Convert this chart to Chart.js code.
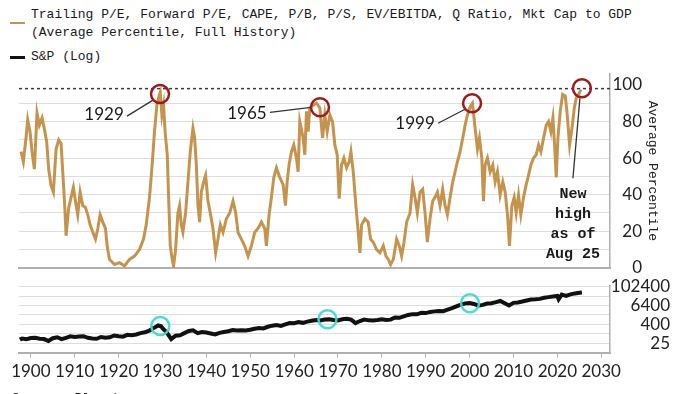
<!DOCTYPE html>
<html><head><meta charset="utf-8">
<script src="https://cdn.jsdelivr.net/npm/chart.js@4.4.1/dist/chart.umd.min.js"></script>
<style>
html,body{margin:0;padding:0;background:#fff;width:700px;height:394px;overflow:hidden;position:relative;}
#c1{position:absolute;left:0;top:0;}
#c2{position:absolute;left:0;top:271px;}
.leg{position:absolute;font:13px 'Liberation Mono',monospace;color:#1a1a1a;white-space:pre;line-height:18px;}
.sw{position:absolute;}
</style></head><body>
<div class="leg" style="left:31px;top:6px;">Trailing P/E, Forward P/E, CAPE, P/B, P/S, EV/EBITDA, Q Ratio, Mkt Cap to GDP<br>(Average Percentile, Full History)</div>
<div class="sw" style="left:10px;top:22px;width:15px;height:2px;background:#c4944f"></div>
<div class="leg" style="left:31px;top:48px;">S&amp;P (Log)</div>
<div class="sw" style="left:10px;top:56px;width:15px;height:3px;background:#111"></div>
<canvas id="c1" width="700" height="283"></canvas>
<canvas id="c2" width="700" height="123"></canvas>
<div class="leg" style="left:12px;top:390px;">Source: Bloomberg</div>
<script>
// ---------- DATA ----------
const xTicks = [1900,1910,1920,1930,1940,1950,1960,1970,1980,1990,2000,2010,2020,2030];
const pctGridTicks = [0,10,20,30,40,50,60,70,80,90,100];
const pctLabelTicks = [0,20,40,60,80,100];
const spGridTicks = [6.25,25,100,400,1600,6400,25600,102400];
const spLabelTicks = [25,400,6400,102400];
const highLine = 98;

const pctYears = [1897.76,1898.29,1898.90,1899.28,1899.81,1900.27,1900.80,1901.41,1901.94,1902.55,1903.08,1903.61,1904.07,1904.60,1905.14,1905.75,1906.35,1906.89,1907.27,1907.72,1908.03,1908.64,1909.17,1909.70,1910.16,1910.69,1911.23,1911.83,1912.44,1912.98,1913.51,1914.12,1914.73,1915.26,1915.79,1916.40,1917.01,1917.39,1917.92,1919.06,1920.21,1921.35,1922.49,1923.63,1924.77,1925.68,1926.29,1927.05,1927.66,1928.20,1928.73,1929.34,1929.49,1929.87,1930.25,1930.63,1931.09,1931.47,1931.77,1932.23,1932.53,1932.99,1933.52,1933.90,1934.28,1934.66,1935.27,1935.81,1936.34,1936.95,1937.33,1937.71,1938.09,1938.47,1938.85,1939.38,1939.84,1940.37,1940.90,1941.51,1942.12,1942.66,1943.19,1943.80,1944.56,1945.32,1946.08,1946.69,1947.22,1947.98,1948.74,1949.50,1950.27,1951.03,1951.79,1952.55,1953.31,1953.69,1954.30,1954.83,1955.37,1955.97,1956.74,1957.50,1958.03,1958.41,1958.87,1959.40,1959.93,1960.54,1960.92,1961.30,1962.06,1962.44,1962.82,1963.20,1963.58,1964.34,1965.11,1965.87,1966.48,1967.01,1967.54,1968.15,1968.76,1969.29,1969.82,1970.28,1970.81,1971.35,1971.96,1972.56,1972.95,1973.48,1974.09,1974.62,1975.00,1975.38,1976.14,1976.90,1977.43,1978.04,1978.81,1979.57,1980.33,1980.94,1981.47,1982.00,1982.61,1983.37,1983.98,1984.51,1985.05,1985.65,1986.42,1987.02,1987.56,1988.09,1988.70,1989.31,1989.84,1990.37,1990.98,1991.59,1992.12,1992.66,1993.26,1993.87,1994.41,1994.94,1995.55,1996.16,1996.69,1997.22,1997.83,1998.44,1998.97,1999.51,2000.11,2000.65,2001.26,2001.79,2002.25,2002.78,2003.16,2003.54,2004.07,2004.68,2005.29,2005.82,2006.35,2006.96,2007.57,2008.11,2008.64,2009.09,2009.63,2010.16,2010.62,2011.15,2011.68,2012.29,2012.90,2013.43,2013.97,2014.57,2015.18,2015.72,2016.25,2016.86,2017.47,2018.00,2018.53,2018.99,2019.37,2019.75,2020.13,2020.66,2021.20,2021.80,2022.18,2022.79,2023.33,2023.86,2024.32,2024.84,2025.38];
const pctValues = [63.5,58,71,81,74.5,63.5,54,84.7,78,82,76,69,54,45,41.4,65,70,68,52.5,34,17.5,33,38.5,44,36.5,29,41.4,34,33,29,23.5,19.4,15.7,21.5,29,25,21.5,12,4.6,1.8,2.8,1,4.6,6.4,10,15.7,23.5,38.5,56.7,75,89,95,96,83.6,89,73.7,61.8,34,12,4.6,1,10,30,34,23.5,19.4,30,47,63.5,76.4,71,56.7,34,25,41.4,47,50.6,36.5,30,21.5,8.2,15.7,23.5,19.4,26.8,30,36.5,30,19.4,15.7,12,6.4,12,19.4,21.5,25,21.5,12,29,38.5,49.4,54.7,49.4,45.5,34,47,56.7,63.5,67.2,60,52.5,80,71,61.8,85.6,74.5,87.4,89,90,87.4,71,83.6,74.5,83.6,80,67.2,61.8,37.8,56.3,60,54.7,58,63.5,52.5,34,19.4,8.2,23.5,26.8,25,15.7,14,10,8.2,12,6.4,4.6,1.8,4.6,15.7,12,6.4,14,25,30,45.5,38.5,30,41.4,43,30,14,26.8,36.5,38.5,41.4,34,43,34,29,38.5,47,52.5,58,63.5,71,78,83.6,88,90,76.4,65,71,60,36.5,56.3,60,52.5,56.3,47,52.5,39.8,47,41.4,29,12,34,38.5,30,39.8,29,38.5,45.5,50.6,56.3,60,61.8,67.2,63.5,71,78,80,74.5,82,67.2,49.4,71,85.6,94.8,94,85.6,67.2,76.4,87.4,93,94.8,97.5];

const spYears = [1897.5,1898,1899,1900,1901,1902,1903,1904,1905,1906,1907,1908,1909,1910,1911,1912,1913,1914,1915,1916,1917,1918,1919,1920,1921,1922,1923,1924,1925,1926,1927,1928,1929,1929.7,1930,1931,1932,1933,1934,1935,1936,1937,1938,1939,1940,1941,1942,1943,1944,1945,1946,1947,1948,1949,1950,1951,1952,1953,1954,1955,1956,1957,1958,1959,1960,1961,1962,1963,1964,1965,1966,1967,1968,1969,1970,1971,1972,1973,1974,1975,1976,1977,1978,1979,1980,1981,1982,1983,1984,1985,1986,1987,1988,1989,1990,1991,1992,1993,1994,1995,1996,1997,1998,1999,2000,2001,2002,2003,2004,2005,2006,2007,2008,2009,2010,2011,2012,2013,2014,2015,2016,2017,2018,2019,2020,2020.3,2021,2022,2023,2024,2025,2025.6];
const spValues = [42,50,45,53,55,48,46,35,52,60,45,55,68,62,66,70,55,50,48,62,55,60,78,70,65,85,80,90,110,125,160,230,340,300,230,120,45,75,80,110,150,165,110,130,120,105,90,115,130,145,175,160,165,160,180,210,230,220,280,330,360,320,400,480,470,560,500,600,680,760,700,820,850,760,720,850,920,800,480,650,800,720,700,760,850,750,800,1100,1050,1300,1600,1800,1750,2200,2100,2500,2700,2900,2800,3500,4300,5600,7200,8800,9200,8000,6200,7000,8500,9000,10500,12500,9000,6500,9500,10000,11500,13500,15500,16000,17000,20000,22000,24000,26000,16000,32000,26000,33000,38000,42000,44000];

const peakYears = [1929.44, 1965.9, 2000.56, 2025.6];
const peakValues = [95, 87.8, 90, 98.2];
const peakLabels = ['1929', '1965', '1999', 'New\nhigh\nas of\nAug 25'];
const spCircleYears = [1929.5, 1967.6, 2000.1];

// ---------- STYLE / LAYOUT ----------
const xMin = 1897.3, xMax = 2032;
const TAN = '#c4944f';
const AXIS = '#b0b0b0';
const GRID = '#dedede';
const tickFont = {family:'Lato', size:17};
const labelLayout = [
  {tx:-56, ty:20, l:[-33,22,-7,6], mono:false},
  {tx:-73, ty:6,  l:[-50,5,-9,0], mono:false},
  {tx:-57, ty:20, l:[-34,20,-7,6], mono:false},
  {tx:-9,  ty:106, l:[-2,10,-9,90], mono:true}
];

function interpLog(xs, ys, x){
  for (let i=0;i<xs.length-1;i++){
    if (x>=xs[i] && x<=xs[i+1]){
      const t=(x-xs[i])/(xs[i+1]-xs[i]);
      return Math.exp(Math.log(ys[i])*(1-t)+Math.log(ys[i+1])*t);
    }
  }
  return ys[ys.length-1];
}

const peakPlugin = {
  id:'peaks',
  beforeDatasetsDraw(chart){
    const {ctx, chartArea:a, scales:{y}} = chart;
    const yy = y.getPixelForValue(highLine);
    ctx.save(); ctx.setLineDash([3,3]); ctx.strokeStyle='#3a3a3a'; ctx.lineWidth=1.5;
    ctx.beginPath(); ctx.moveTo(a.left, yy); ctx.lineTo(a.right, yy); ctx.stroke(); ctx.restore();
  },
  afterDatasetsDraw(chart){
    const {ctx, scales:{x,y}} = chart;
    ctx.save();
    peakYears.forEach((yr,i)=>{
      const cx = x.getPixelForValue(yr), cy = y.getPixelForValue(peakValues[i]);
      const L = labelLayout[i];
      ctx.strokeStyle='#333'; ctx.lineWidth=1.3; ctx.setLineDash([]);
      ctx.beginPath(); ctx.moveTo(cx+L.l[0], cy+L.l[1]); ctx.lineTo(cx+L.l[2], cy+L.l[3]); ctx.stroke();
      ctx.strokeStyle='#9b1c1c'; ctx.lineWidth=2.5;
      ctx.beginPath(); ctx.arc(cx, cy, 9, 0, Math.PI*2); ctx.stroke();
      ctx.fillStyle='#1a1a1a'; ctx.textAlign='center'; ctx.textBaseline='middle';
      if (L.mono){
        ctx.font="bold 15px 'Liberation Mono', monospace";
        peakLabels[i].split('\n').forEach((ln,k)=> ctx.fillText(ln, cx+L.tx, cy+L.ty+k*20));
      } else {
        ctx.font="17px Lato, sans-serif";
        ctx.fillText(peakLabels[i], cx+L.tx, cy+L.ty);
      }
    });
    ctx.restore();
  }
};

const spPlugin = {
  id:'spcircles',
  afterDatasetsDraw(chart){
    const {ctx, scales:{x,y}} = chart;
    ctx.save();
    ctx.strokeStyle='rgba(64,216,206,0.95)'; ctx.lineWidth=2.5;
    spCircleYears.forEach(yr=>{
      const cx=x.getPixelForValue(yr), cy=y.getPixelForValue(interpLog(spYears, spValues, yr));
      ctx.beginPath(); ctx.arc(cx, cy, 9, 0, Math.PI*2); ctx.stroke();
    });
    ctx.restore();
  }
};

new Chart(document.getElementById('c1'), {
  type:'line',
  data:{datasets:[{data:pctYears.map((v,i)=>({x:v, y:pctValues[i]})), borderColor:TAN, borderWidth:3, pointRadius:0, tension:0, fill:false}]},
  options:{
    responsive:false, animation:false, devicePixelRatio:1,
    layout:{padding:{left:19, right:58, top:74, bottom:2}},
    plugins:{legend:{display:false}, tooltip:{enabled:false}},
    scales:{
      x:{type:'linear', min:xMin, max:xMax, ticks:{display:false}, grid:{display:false, drawTicks:false}, border:{display:true, color:AXIS, width:2}},
      y:{position:'right', min:0, max:106,
         afterBuildTicks:s=>{s.ticks=pctGridTicks.map(v=>({value:v}));},
         afterFit:s=>{s.width=32;},
         ticks:{padding:5, crossAlign:'far', autoSkip:false, font:tickFont, color:'#222', callback:v=>pctLabelTicks.includes(v)?String(v):''},
         grid:{drawTicks:false, color:c=>(c.tick && (c.tick.value===0||c.tick.value===100))?'rgba(0,0,0,0)':GRID},
         border:{display:true, color:AXIS, width:1.5},
         title:{display:true, text:'Average Percentile', font:{family:'Liberation Mono', size:13}, color:'#222', padding:{top:-18, bottom:0}}
      }
    }
  },
  plugins:[peakPlugin]
});

new Chart(document.getElementById('c2'), {
  type:'line',
  data:{datasets:[{data:spYears.map((v,i)=>({x:v, y:spValues[i]})), borderColor:'#111', borderWidth:4, pointRadius:0, tension:0, fill:false}]},
  options:{
    responsive:false, animation:false, devicePixelRatio:1,
    layout:{padding:{left:19, right:30, top:0, bottom:8}},
    plugins:{legend:{display:false}, tooltip:{enabled:false}},
    scales:{
      x:{type:'linear', min:xMin, max:xMax,
         afterBuildTicks:s=>{s.ticks=xTicks.map(v=>({value:v}));},
         ticks:{font:tickFont, color:'#222', padding:4, maxRotation:0, autoSkip:false, callback:v=>String(v)},
         grid:{drawOnChartArea:false, drawTicks:true, tickLength:5, color:AXIS},
         border:{display:true, color:AXIS, width:2}},
      y:{type:'logarithmic', position:'right', min:6.25, max:110000,
         afterBuildTicks:s=>{s.ticks=spGridTicks.map(v=>({value:v}));},
         afterFit:s=>{s.width=60;},
         ticks:{padding:5, crossAlign:'far', autoSkip:false, font:tickFont, color:'#222', callback:v=>spLabelTicks.includes(v)?String(v):''},
         grid:{drawTicks:false, color:c=>(c.tick && c.tick.value===6.25)?'rgba(0,0,0,0)':GRID},
         border:{display:true, color:AXIS, width:1.5}
      }
    }
  },
  plugins:[spPlugin]
});
</script>
</body></html>
